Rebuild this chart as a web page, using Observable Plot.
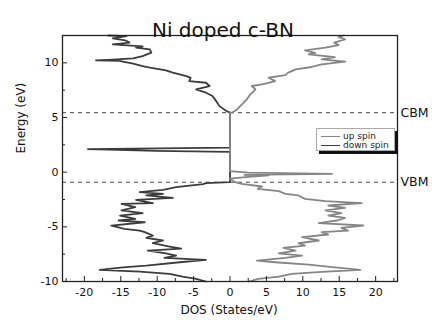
<!DOCTYPE html>
<html>
<head>
<meta charset="utf-8">
<script src="https://cdn.jsdelivr.net/npm/d3@7"></script>
<script src="https://cdn.jsdelivr.net/npm/@observablehq/plot@0.6"></script>
<style>
  html, body { margin: 0; padding: 0; background: #fff; }
  #wrap { position: relative; width: 432px; height: 320px; font-family: "DejaVu Sans", sans-serif; }
  #legend { position: absolute; left: 316px; top: 128px; width: 77px; height: 21px; border: 1px solid #aaa; background: #fff; box-shadow: 3px 3px 0 #111; font-size: 9px; color: #222; }
  #legend .row { position: absolute; left: 4px; height: 10px; line-height: 10px; white-space: nowrap; }
  #legend .sw { display: inline-block; width: 19px; height: 0; border-top: 1.6px solid; vertical-align: middle; margin-right: 3px; }
</style>
</head>
<body>
<div id="wrap"></div>
<script>
// ---- data ----
const title = "Ni doped c-BN";
const seriesNames = ["up spin", "down spin"];
const seriesColors = ["#858585", "#3c3c3c"];

// down spin (plotted as negative DOS)
const downE = [12.5, 12.45, 12.24, 12.06, 11.85, 11.69, 11.5, 11.39, 11.24, 10.93, 10.62, 10.41, 10.3, 10.23, 10.17, 9.92, 9.71, 9.56, 9.31, 9.1, 8.79, 8.63, 8.33, 8.18, 7.88, 7.57, 7.27, 6.96, 6.5, 6.04, 5.59, 5.44,
  2.25, 2.1, 1.95, 1.85, -0.92,
  -1.0, -1.1, -1.37, -1.62, -1.83, -1.98, -2.13, -2.35, -2.53, -2.84, -2.9, -3.2, -3.5, -3.75, -3.97, -4.27, -4.42, -4.58, -4.88, -5.18, -5.34, -5.49, -5.8, -6.0, -6.25, -6.5, -6.8, -7.0, -7.17, -7.42, -7.63, -7.84, -8.03, -8.24, -8.54, -8.7, -8.94, -9.1, -9.3, -9.55, -9.76, -10.0];
const downDOS = [-16.7, -14.2, -16.1, -14.4, -13.8, -16.1, -12.0, -12.9, -11.0, -10.8, -12.0, -13.3, -16.1, -18.4, -15.2, -13.3, -12.0, -11.0, -8.8, -7.85, -6.0, -5.4, -5.6, -3.3, -2.8, -4.65, -3.3, -2.4, -1.9, -1.45, -0.5, 0,
  0, -19.5, -10.1, 0, 0,
  -3.3, -3.7, -7.4, -9.2, -12.4, -9.2, -11.5, -7.85, -12.9, -10.6, -14.9, -13.0, -14.9, -12.0, -15.1, -13.0, -15.3, -11.7, -16.3, -14.5, -12.4, -11.7, -10.6, -11.5, -9.2, -10.6, -8.3, -6.7, -11.3, -8.8, -7.4, -9.0, -3.3, -6.9, -11.5, -14.7, -17.9, -12.4, -8.3, -6.5, -4.65, -3.3];

// up spin (positive DOS)
const upE = [12.5, 12.37, 12.15, 11.85, 11.63, 11.39, 11.14, 10.92, 10.78, 10.53, 10.32, 10.11, 9.86, 9.62, 9.4, 9.1, 8.88, 8.64, 8.33, 8.03, 7.88, 7.57, 7.12, 6.66, 6.2, 5.74, 5.44, 5.44,
  0.1, -0.05, -0.15, -0.25, -0.3, -0.45, -0.6, -0.92,
  -1.07, -1.31, -1.52, -1.74, -1.98, -2.13, -2.44, -2.65, -2.84, -3.05, -3.26, -3.5, -3.75, -3.97, -4.18, -4.42, -4.67, -4.88, -5.1, -5.34, -5.49, -5.7, -5.95, -6.25, -6.5, -6.71, -6.93, -7.17, -7.42, -7.63, -7.84, -8.09, -8.24, -8.45, -8.7, -8.94, -9.12, -9.3, -9.55, -9.76, -10.0];
const upDOS = [15.6, 14.9, 15.8, 14.3, 14.9, 13.1, 10.3, 11.7, 10.8, 14.4, 12.6, 15.8, 12.6, 11.2, 9.0, 8.0, 7.6, 5.3, 6.2, 4.4, 3.0, 3.5, 2.8, 2.3, 1.64, 0.96, 0.27, 0,
  0, 2.5, 14.0, 2.0, 5.3, 2.1, 0, 0.7,
  1.6, 4.4, 3.8, 6.7, 7.6, 9.4, 10.3, 13.1, 18.1, 13.5, 15.8, 13.1, 15.3, 13.5, 15.8, 14.7, 12.2, 18.3, 15.3, 16.2, 12.6, 13.5, 9.9, 12.2, 9.4, 10.3, 7.35, 9.0, 6.7, 9.9, 7.6, 3.7, 6.2, 10.8, 14.4, 17.9, 12.6, 8.5, 6.7, 3.9, 2.6];

const levelNames = ["CBM", "VBM"];
const levelE = [5.44, -0.92];

const xDomain = [-23, 23];
const yDomain = [-10, 12.5];
const xMajor = [-20, -15, -10, -5, 0, 5, 10, 15, 20];
const xMinor = [-22.5, -17.5, -12.5, -7.5, -2.5, 2.5, 7.5, 12.5, 17.5, 22.5];
const yMajor = [-10, -5, 0, 5, 10];
const yMinor = [-7.5, -2.5, 2.5, 7.5];
const xLabel = "DOS (States/eV)";
const yLabel = "Energy (eV)";

// ---- build ----
const W = 432, H = 320, mL = 62, mR = 35, mT = 35, mB = 39;
const pw = W - mL - mR, ph = H - mT - mB;
const up = upE.map((e, i) => ({E: e, D: upDOS[i]}));
const down = downE.map((e, i) => ({E: e, D: downDOS[i]}));
const levels = levelNames.map((n, i) => ({name: n, E: levelE[i]}));

const chart = Plot.plot({
  width: W, height: H,
  marginLeft: mL, marginRight: mR, marginTop: mT, marginBottom: mB,
  style: {fontFamily: "DejaVu Sans, sans-serif", background: "#fff", color: "#111"},
  x: {domain: xDomain, label: null},
  y: {domain: yDomain, label: null},
  marks: [
    Plot.ruleY(levels, {y: "E", stroke: "#444", strokeWidth: 1, strokeDasharray: "4,4"}),
    Plot.line(down, {x: "D", y: "E", stroke: seriesColors[1], strokeWidth: 1.8, strokeLinejoin: "round"}),
    Plot.line(up, {x: "D", y: "E", stroke: seriesColors[0], strokeWidth: 1.8, strokeLinejoin: "round"}),
    Plot.tickX(xMajor, {x: d => d, insetTop: ph - 5, stroke: "#222"}),
    Plot.tickX(xMinor, {x: d => d, insetTop: ph - 3, stroke: "#222"}),
    Plot.tickY(yMajor, {y: d => d, insetRight: pw - 5, stroke: "#222"}),
    Plot.tickY(yMinor, {y: d => d, insetRight: pw - 3, stroke: "#222"}),
    Plot.axisX(xMajor, {tickSize: 0, tickPadding: 7, fontSize: 11, tickFormat: d => String(d), label: null}),
    Plot.axisY(yMajor, {tickSize: 0, tickPadding: 4, fontSize: 11, tickFormat: d => String(d), label: null}),
    Plot.frame({stroke: "#222", strokeWidth: 1.3}),
    Plot.text(levels, {x: xDomain[1], y: "E", text: "name", textAnchor: "start", dx: 3, fontSize: 12.5, fill: "#111"}),
    Plot.text([title], {frameAnchor: "top", dy: -13, dx: -7, fontSize: 20, fill: "#111"}),
    Plot.text([xLabel], {frameAnchor: "bottom", dy: 32, dx: -1, fontSize: 12, fill: "#111"}),
    Plot.text([yLabel], {frameAnchor: "left", dx: -41, dy: -5, rotate: -90, fontSize: 12, fill: "#111"})
  ]
});
const wrap = document.getElementById("wrap");
wrap.appendChild(chart);

const legend = document.createElement("div");
legend.id = "legend";
legend.innerHTML = seriesNames.map((n, i) =>
  `<div class="row" style="top:${i === 0 ? 2 : 11}px"><span class="sw" style="border-color:${seriesColors[i]}"></span>${n}</div>`).join("");
wrap.appendChild(legend);
</script>
</body>
</html>
